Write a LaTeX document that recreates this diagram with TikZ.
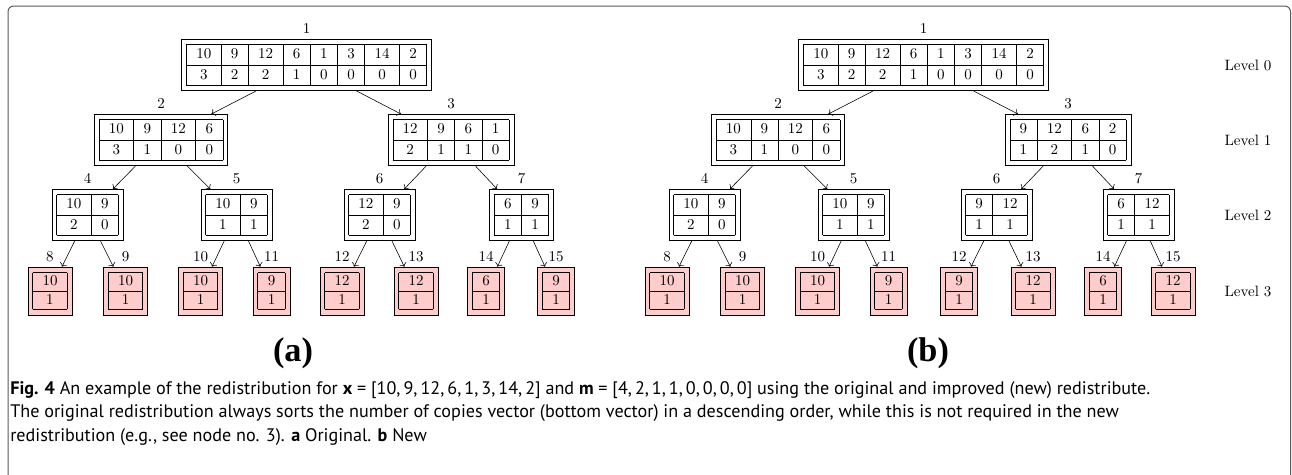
\documentclass[tikz,border=0pt]{standalone}
\usepackage{fontspec}
\newfontfamily\captionfont{PT Sans}
\newfontfamily\panelfont{Liberation Serif}
\usetikzlibrary{arrows.meta}

\newcommand{\treefont}{\fontsize{10.5}{12.6}\selectfont}
\newcommand{\twovec}[3]{\begin{tabular}{#1}\hline #2\\\hline #3\\\hline\end{tabular}}
\setlength{\tabcolsep}{6.9pt}

\begin{document}
\begin{tikzpicture}[x=0.7pt,y=-0.7pt,
    inode/.style={draw,inner sep=3.3pt,font=\treefont,
        execute at begin node={\def\arraystretch{1.12}}},
    leaf/.style={draw,fill=red!20,inner sep=3.3pt,font=\treefont,
        execute at begin node={\def\arraystretch{1}\setlength{\arrayrulewidth}{0.6pt}}},
    every label/.style={font=\treefont},
    link/.style={-{To}},
    lvl/.style={font=\treefont},
    panel/.style={font=\panelfont\bfseries\fontsize{24}{28}\selectfont}]

    \useasboundingbox (0,0) rectangle (1292,474);

    % figure frame
    \draw[gray!70!black,line width=0.7pt,rounded corners=4pt] (8,6) rectangle (1290.5,500);

    %%%%%%%%%%%%%%%%%%%%%%%%%%%%%%%%%%%%%%%%%%%%%%%%%%%%%%

    % (a) original redistribution
    \node[inode,label=above:1] (a1) at (306.5,65) {\twovec{|c|c|c|c|c|c|c|c|}{10&9&12&6&1&3&14&2}{3&2&2&1&0&0&0&0}};

    \node[inode,label=above:2] (a2) at (161,140) {\twovec{|c|c|c|c|}{10&9&12&6}{3&1&0&0}};
    \node[inode,label=above:3] (a3) at (451,140) {\twovec{|c|c|c|c|}{12&9&6&1}{2&1&1&0}};

    \node[inode,label=above:4] (a4) at (87.5,215) {\twovec{|c|c|}{10&9}{2&0}};
    \node[inode,label=above:5] (a5) at (236.5,215) {\twovec{|c|c|}{10&9}{1&1}};
    \node[inode,label=above:6] (a6) at (379.5,215) {\twovec{|c|c|}{12&9}{2&0}};
    \node[inode,label=above:7] (a7) at (521.5,215) {\twovec{|c|c|}{6&9}{1&1}};

    \node[leaf,label=above:8] (a8) at (50,291) {\twovec{|c|}{10}{1}};
    \node[leaf,label=above:9] (a9) at (125.5,291) {\twovec{|c|}{10}{1}};
    \node[leaf,label=above:10] (a10) at (200.5,291) {\twovec{|c|}{10}{1}};
    \node[leaf,label=above:11] (a11) at (271.5,291) {\twovec{|c|}{9}{1}};
    \node[leaf,label=above:12] (a12) at (342,291) {\twovec{|c|}{12}{1}};
    \node[leaf,label=above:13] (a13) at (416,291) {\twovec{|c|}{12}{1}};
    \node[leaf,label=above:14] (a14) at (486,291) {\twovec{|c|}{6}{1}};
    \node[leaf,label=above:15] (a15) at (556,291) {\twovec{|c|}{9}{1}};

    % links of (a)
    \draw[link] (a1) -- (a2); \draw[link] (a1) -- (a3);
    \draw[link] (a2) -- (a4); \draw[link] (a2) -- (a5);
    \draw[link] (a3) -- (a6); \draw[link] (a3) -- (a7);
    \draw[link] (a4) -- (a8); \draw[link] (a4) -- (a9);
    \draw[link] (a5) -- (a10); \draw[link] (a5) -- (a11);
    \draw[link] (a6) -- (a12); \draw[link] (a6) -- (a13);
    \draw[link] (a7) -- (a14); \draw[link] (a7) -- (a15);

    \node[panel] (capa) at (293,353) {(a)};

    %%%%%%%%%%%%%%%%%%%%%%%%%%%%%%%%%%%%%%%%%%%%%%%%%%%%%%

    % (b) new redistribution
    \node[inode,label=above:1] (b1) at (923.5,65) {\twovec{|c|c|c|c|c|c|c|c|}{10&9&12&6&1&3&14&2}{3&2&2&1&0&0&0&0}};

    \node[inode,label=above:2] (b2) at (778,140) {\twovec{|c|c|c|c|}{10&9&12&6}{3&1&0&0}};
    \node[inode,label=above:3] (b3) at (1068,140) {\twovec{|c|c|c|c|}{9&12&6&2}{1&2&1&0}};

    \node[inode,label=above:4] (b4) at (704.5,215) {\twovec{|c|c|}{10&9}{2&0}};
    \node[inode,label=above:5] (b5) at (853.5,215) {\twovec{|c|c|}{10&9}{1&1}};
    \node[inode,label=above:6] (b6) at (996.5,215) {\twovec{|c|c|}{9&12}{1&1}};
    \node[inode,label=above:7] (b7) at (1138.5,215) {\twovec{|c|c|}{6&12}{1&1}};

    \node[leaf,label=above:8] (b8) at (667,291) {\twovec{|c|}{10}{1}};
    \node[leaf,label=above:9] (b9) at (742.5,291) {\twovec{|c|}{10}{1}};
    \node[leaf,label=above:10] (b10) at (817.5,291) {\twovec{|c|}{10}{1}};
    \node[leaf,label=above:11] (b11) at (888.5,291) {\twovec{|c|}{9}{1}};
    \node[leaf,label=above:12] (b12) at (959,291) {\twovec{|c|}{9}{1}};
    \node[leaf,label=above:13] (b13) at (1033,291) {\twovec{|c|}{12}{1}};
    \node[leaf,label=above:14] (b14) at (1103,291) {\twovec{|c|}{6}{1}};
    \node[leaf,label=above:15] (b15) at (1173,291) {\twovec{|c|}{12}{1}};

    % links of (b)
    \draw[link] (b1) -- (b2); \draw[link] (b1) -- (b3);
    \draw[link] (b2) -- (b4); \draw[link] (b2) -- (b5);
    \draw[link] (b3) -- (b6); \draw[link] (b3) -- (b7);
    \draw[link] (b4) -- (b8); \draw[link] (b4) -- (b9);
    \draw[link] (b5) -- (b10); \draw[link] (b5) -- (b11);
    \draw[link] (b6) -- (b12); \draw[link] (b6) -- (b13);
    \draw[link] (b7) -- (b14); \draw[link] (b7) -- (b15);

    \node[panel] (capb) at (928,353) {(b)};

    %%%%%%%%%%%%%%%%%%%%%%%%%%%%%%%%%%%%%%%%%%%%%%%%%%%%%%

    % level names
    \node[lvl] (lev0) at (1248,65) {Level 0};
    \node[lvl] (lev1) at (1248,140) {Level 1};
    \node[lvl] (lev2) at (1248,215) {Level 2};
    \node[lvl] (lev3) at (1248,291) {Level 3};

    % caption
    \node[anchor=north west,align=left,inner sep=0pt,
        font=\captionfont\fontsize{12.7}{16.4}\selectfont] (caption) at (10,381)
    {\textbf{Fig. 4} An example of the redistribution for \textbf{x}\ =\ [10,\,9,\,12,\,6,\,1,\,3,\,14,\,2] and \textbf{m}\ =\ [4,\,2,\,1,\,1,\,0,\,0,\,0,\,0] using the original and improved (new) redistribute.\\
    The original redistribution always sorts the number of copies vector (bottom vector) in a descending order, while this is not required in the new\\
    redistribution (e.g., see node no. 3). \textbf{a} Original. \textbf{b} New};

\end{tikzpicture}
\end{document}
